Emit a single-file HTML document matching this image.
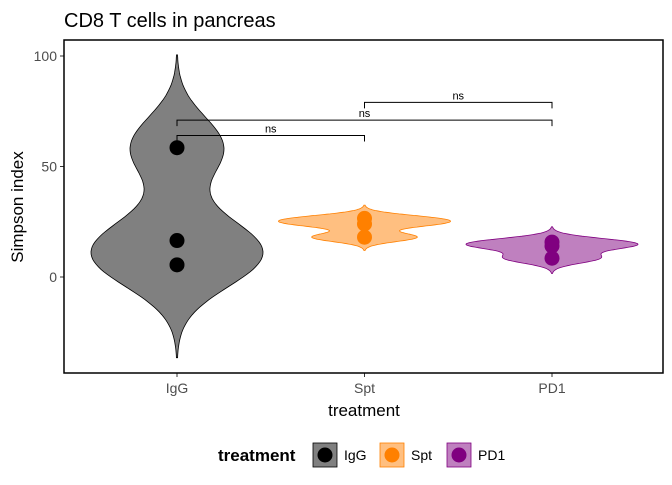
<!DOCTYPE html>
<html><head><meta charset="utf-8"><style>
body{margin:0;background:#fff;}
svg text{font-family:"Liberation Sans",Arial,sans-serif;}
</style></head><body>
<svg id="chart" width="672" height="480" xmlns="http://www.w3.org/2000/svg">
<rect width="672" height="480" fill="#fff"/>
<text x="64" y="27" font-size="20" fill="#000">CD8 T cells in pancreas</text>
<g id="plot"></g>
<rect x="64" y="40" width="599" height="333" fill="none" stroke="#000" stroke-width="1.5"/>
<text x="364" y="416" font-size="17" text-anchor="middle">treatment</text>
<text transform="translate(23,207) rotate(-90)" font-size="17" text-anchor="middle">Simpson index</text>
<g id="legend">
<text x="218" y="461" font-size="17" font-weight="bold">treatment</text>
</g>
</svg>
<script>
const categories = ["IgG","Spt","PD1"];
const pointsIgG = [58.5, 16.5, 5.5];
const pointsSpt = [26.5, 24, 18];
const pointsPD1 = [15.8, 14, 8.5];
const bandwidths = [14, 2, 2.3];
const yTicks = [0, 50, 100];
const sigPairs = [[0,1],[0,2],[1,2]];
const sigHeights = [64, 71, 79];
const sigLabels = ["ns","ns","ns"];
const fills = ["#808080","#FFBF80","#BF80BF"];
const strokes = ["#000000","#FF8000","#800080"];
const dotCols = ["#000000","#FF8000","#800080"];
const groups = [pointsIgG, pointsSpt, pointsPD1];

const NS = "http://www.w3.org/2000/svg";
const xPos = i => 177 + i * 187.5;
const yPos = v => 277 - v * 2.21;
const maxHalf = 86;
const plot = document.getElementById('plot');
function mk(tag, attrs){const e=document.createElementNS(NS,tag);for(const k in attrs)e.setAttribute(k,attrs[k]);return e;}

yTicks.forEach(t=>{
  const tx = mk('text',{x:57,y:yPos(t)+5,'font-size':14,fill:'#4d4d4d','text-anchor':'end'});
  tx.textContent=t;
  
  
  plot.appendChild(tx);
  const tk = mk('line',{x1:60,x2:64,y1:yPos(t),y2:yPos(t),stroke:'#333'});
  
  
  plot.appendChild(tk);
});
categories.forEach((c,i)=>{
  const tx = mk('text',{x:xPos(i),y:393,'font-size':14,fill:'#4d4d4d','text-anchor':'middle'});
  tx.textContent=c;
  
  
  plot.appendChild(tx);
  const tk = mk('line',{x1:xPos(i),x2:xPos(i),y1:373,y2:377,stroke:'#333'});
  
  
  plot.appendChild(tk);
});

groups.forEach((pts,i)=>{
  const bw = bandwidths[i];
  const lo = Math.min(...pts) - 3*bw, hi = Math.max(...pts) + 3*bw;
  const n = 120, vals=[], dens=[];
  for(let k=0;k<=n;k++){
    const v = lo + (hi-lo)*k/n;
    let d=0; pts.forEach(p=>{d+=Math.exp(-0.5*((v-p)/bw)**2);});
    vals.push(v); dens.push(d);
  }
  const md = Math.max(...dens);
  let dstr='';
  vals.forEach((v,k)=>{dstr+=(k?'L':'M')+(xPos(i)+dens[k]/md*maxHalf).toFixed(1)+','+yPos(v).toFixed(1);});
  for(let k=n;k>=0;k--){dstr+='L'+(xPos(i)-dens[k]/md*maxHalf).toFixed(1)+','+yPos(vals[k]).toFixed(1);}
  dstr+='Z';
  const path = mk('path',{d:dstr,fill:fills[i],stroke:strokes[i],'stroke-width':0.8});
  
  
  plot.appendChild(path);
  pts.forEach(p=>{
    const c = mk('circle',{cx:xPos(i),cy:yPos(p),r:7.5,fill:dotCols[i]});
    
    
    plot.appendChild(c);
  });
});

sigPairs.forEach((pr,k)=>{
  const y = yPos(sigHeights[k]), x1=xPos(pr[0]), x2=xPos(pr[1]);
  const p = mk('path',{d:`M${x1},${y+6}V${y}H${x2}V${y+6}`,fill:'none',stroke:'#000','stroke-width':1});
  
  
  plot.appendChild(p);
  const t = mk('text',{x:(x1+x2)/2,y:y-3,'font-size':11,'text-anchor':'middle'});
  t.textContent=sigLabels[k];
  
  
  plot.appendChild(t);
});

const legend = document.getElementById('legend');
const lx = [313, 380, 447];
categories.forEach((c,i)=>{
  const r = mk('rect',{x:lx[i],y:443,width:24,height:24,fill:fills[i],stroke:strokes[i],'stroke-width':0.8});
  
  
  legend.appendChild(r);
  const d = mk('circle',{cx:lx[i]+12,cy:455,r:7.5,fill:dotCols[i]});
  
  
  legend.appendChild(d);
  const t = mk('text',{x:lx[i]+31,y:460,'font-size':14});
  t.textContent=c;
  
  
  legend.appendChild(t);
});
</script>
</body></html>
